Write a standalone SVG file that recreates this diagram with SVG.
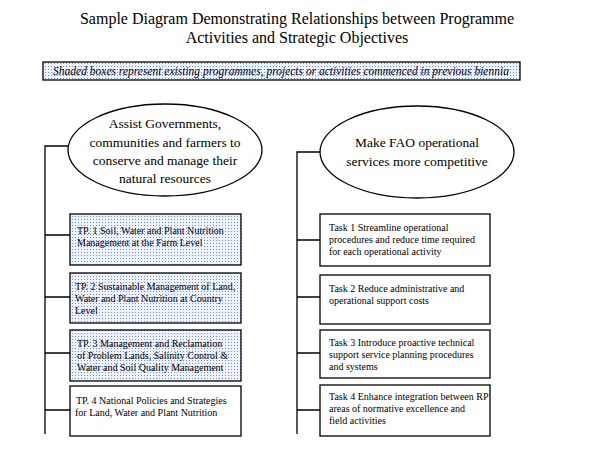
<svg xmlns="http://www.w3.org/2000/svg" width="600" height="450" viewBox="0 0 600 450" font-family="'Liberation Serif', 'DejaVu Serif', serif">
<defs>
<pattern id="dots" width="3" height="3" patternUnits="userSpaceOnUse">
<rect width="3" height="3" fill="#eef3ff"/>
<rect x="0" y="0" width="1" height="1" fill="#6a8ee0"/>
</pattern>
<style>
text{fill:#000}
.t{font-size:16px}
.e{font-size:13.5px}
.b{font-size:10px}
.sh{fill:url(#dots);stroke:#000;stroke-width:1.3}
.pl{fill:#fff;stroke:#000;stroke-width:1.3}
.ln{stroke:#000;stroke-width:1.3;fill:none}
</style>
</defs>
<rect width="600" height="450" fill="#fff"/>
<g id="title">
<text class="t" x="297" y="24" text-anchor="middle">Sample Diagram Demonstrating Relationships between Programme</text>
<text class="t" x="297" y="43" text-anchor="middle">Activities and Strategic Objectives</text>
</g>
<g id="legend">
<rect class="sh" x="43" y="62" width="477" height="18"/>
<text x="281" y="75" text-anchor="middle" font-size="11.5" font-style="italic">Shaded boxes represent existing programmes, projects or activities commenced in previous biennia</text>
</g>
<g id="connectors">
<path class="ln" d="M68 146H45V434M45 235H70M45 297H70M45 353H70M45 410H70"/>
<path class="ln" d="M320 152H297V434M297 240H320M297 297H320M297 353H320M297 410H320"/>
</g>
<g id="obj1">
<ellipse class="pl" cx="165" cy="150" rx="97" ry="46"/>
<text class="e" x="165" y="128" text-anchor="middle">Assist Governments,</text>
<text class="e" x="165" y="147" text-anchor="middle">communities and farmers to</text>
<text class="e" x="165" y="165" text-anchor="middle">conserve and manage their</text>
<text class="e" x="165" y="183" text-anchor="middle">natural resources</text>
</g>
<g id="tp1"><rect class="sh" x="70" y="214" width="171" height="51"/>
<text class="b" x="77" y="234">TP. 1 Soil, Water and Plant Nutrition</text>
<text class="b" x="77" y="246">Management at the Farm Level</text></g>
<g id="tp2"><rect class="sh" x="70" y="273" width="171" height="50"/>
<text class="b" x="75" y="290">TP. 2 Sustainable Management of Land,</text>
<text class="b" x="75" y="302">Water and Plant Nutrition at Country</text>
<text class="b" x="75" y="314">Level</text></g>
<g id="tp3"><rect class="sh" x="70" y="330" width="171" height="51"/>
<text class="b" x="77" y="347">TP. 3 Management and Reclamation</text>
<text class="b" x="77" y="359">of Problem Lands, Salinity Control &amp;</text>
<text class="b" x="77" y="371">Water and Soil Quality Management</text></g>
<g id="tp4"><rect class="pl" x="70" y="386" width="171" height="50"/>
<text class="b" x="76" y="404">TP. 4 National Policies and Strategies</text>
<text class="b" x="75" y="416">for Land, Water and Plant Nutrition</text></g>
<g id="obj2">
<ellipse class="pl" cx="417" cy="152" rx="97" ry="46"/>
<text class="e" x="417" y="147" text-anchor="middle">Make FAO operational</text>
<text class="e" x="417" y="166" text-anchor="middle">services more competitive</text>
</g>
<g id="task1"><rect class="pl" x="320" y="214" width="170" height="52"/>
<text class="b" x="329" y="231">Task 1 Streamline operational</text>
<text class="b" x="329" y="243">procedures and reduce time required</text>
<text class="b" x="329" y="255">for each operational activity</text></g>
<g id="task2"><rect class="pl" x="320" y="275" width="170" height="49"/>
<text class="b" x="329" y="292">Task 2 Reduce administrative and</text>
<text class="b" x="329" y="304">operational support costs</text></g>
<g id="task3"><rect class="pl" x="320" y="330" width="170" height="48"/>
<text class="b" x="329" y="346">Task 3 Introduce proactive technical</text>
<text class="b" x="329" y="358">support service planning procedures</text>
<text class="b" x="329" y="370">and systems</text></g>
<g id="task4"><rect class="pl" x="320" y="385" width="170" height="51"/>
<text class="b" x="329" y="400">Task 4 Enhance integration between RP</text>
<text class="b" x="329" y="412">areas of normative excellence and</text>
<text class="b" x="329" y="424">field activities</text></g>
</svg>
